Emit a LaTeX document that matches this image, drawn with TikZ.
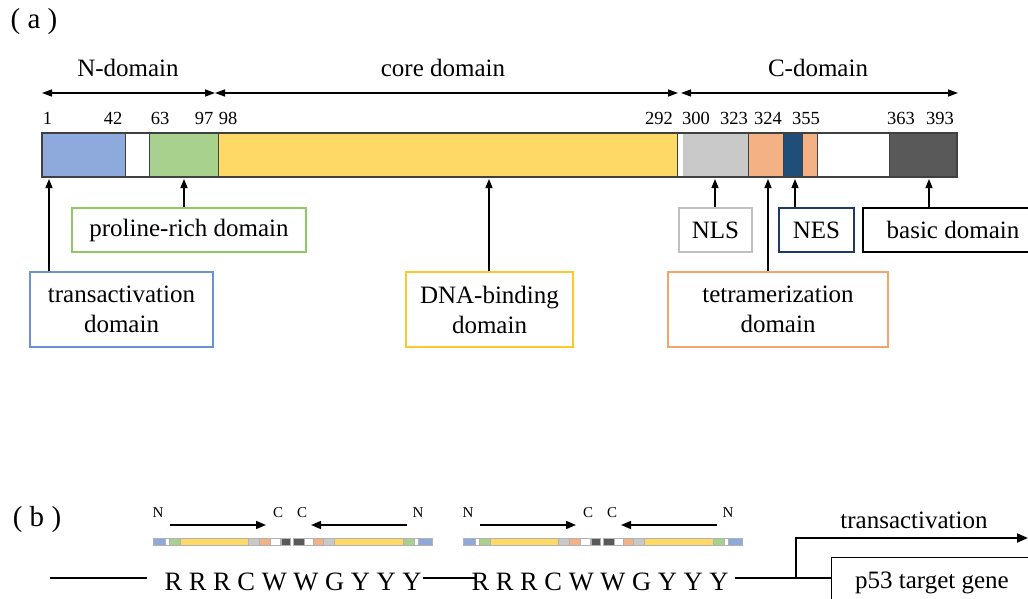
\documentclass[tikz,border=0pt]{standalone}
\usepackage{fontspec}
\setmainfont{Liberation Serif}
\usetikzlibrary{arrows.meta}
\definecolor{cblue}{HTML}{8EA9DB}
\definecolor{cblueb}{HTML}{4472C4}
\definecolor{bblue}{HTML}{6C93D1}
\definecolor{cgreen}{HTML}{A9D18E}
\definecolor{bgreen}{HTML}{8FC964}
\definecolor{cyellow}{HTML}{FFD966}
\definecolor{byellow}{HTML}{FFC72C}
\definecolor{cgray}{HTML}{C9C9C9}
\definecolor{bgray}{HTML}{C0C0C0}
\definecolor{corange}{HTML}{F4B183}
\definecolor{borange}{HTML}{F4A46C}
\definecolor{cnavy}{HTML}{1F4E79}
\definecolor{bnavy}{HTML}{1F3864}
\definecolor{cdark}{HTML}{595959}
\definecolor{cedge}{HTML}{404040}
\newcommand\minibar[2]{% #1 = list of x1/x2/color, #2 = y top
  \foreach \a/\b/\c in {#1} {\filldraw[fill=\c, draw=black!30, line width=0.4pt] (\a,#2) rectangle (\b,#2+7);}
}
\begin{document}
\begin{tikzpicture}[x=1pt,y=-1pt,
  lbl/.style={font=\fontsize{25}{30}\selectfont, inner sep=0},
  part/.style={font=\fontsize{29}{34}\selectfont, inner sep=0},
  seqf/.style={font=\fontsize{26.5}{30}\selectfont, inner sep=0, anchor=base},
  num/.style={font=\fontsize{18.5}{22}\selectfont, anchor=base, inner sep=0},
  small/.style={font=\fontsize{15}{17}\selectfont, anchor=base, inner sep=0},
  dbox/.style={draw, line width=1.6pt, align=center, font=\fontsize{25}{30}\selectfont, inner sep=0},
  arr/.style={-{Triangle[length=9pt,width=7pt]}, line width=1.3pt},
  dbl/.style={{Triangle[length=10pt,width=7pt]}-{Triangle[length=10pt,width=7pt]}, line width=1.3pt},
  barr/.style={-{Triangle[length=11pt,width=9pt]}, line width=1.8pt},
  seg/.style={line width=1pt}
]
\useasboundingbox (0,0) rectangle (1028,599);
\clip (0,0) rectangle (1028,599);

% ---------- (a) ----------
\node[part] (lab-a) at (34,22) {( a )};

% domain arrows
\coordinate (n1) at (42,93);
\coordinate (n2) at (215,93);
\coordinate (c1) at (678,93);
\coordinate (c2) at (681,93);
\coordinate (c3) at (958,93);
\draw[dbl] (n1) -- (n2);
\draw[dbl] (n2) -- (c1);
\draw[dbl] (c2) -- (c3);
\node[lbl, anchor=base] (ndom) at (128,77) {N-domain};
\node[lbl, anchor=base] (cdom) at (443,77) {core domain};
\node[lbl, anchor=base] (cdomc) at (818,77) {C-domain};

% residue numbers
\foreach \x/\t [count=\i] in {47.5/1,113/42,160/63,204/97,228/98,659/292,696/300,734/323,768/324,806/355,901/363,940/393}
  \node[num] (num\i) at (\x,125) {\t};

% bar
\filldraw[fill=cblue, draw=cblueb, seg] (42,133) rectangle (125,177);
\filldraw[fill=white, draw=cedge, seg] (125,133) rectangle (149,177);
\filldraw[fill=cgreen, draw=cedge, seg] (149,133) rectangle (218,177);
\filldraw[fill=cyellow, draw=cedge, seg] (218,133) rectangle (677,177);
\filldraw[fill=white, draw=cedge, seg] (677,133) rectangle (682,177);
\filldraw[fill=cgray, draw=white, seg] (682.5,134) rectangle (748,176);
\filldraw[fill=corange, draw=cedge, seg] (748,133) rectangle (783,177);
\filldraw[fill=cnavy, draw=cedge, seg] (783,133) rectangle (802,177);
\filldraw[fill=corange, draw=cedge, seg] (802,133) rectangle (817,177);
\filldraw[fill=white, draw=cedge, seg] (817,133) rectangle (889,177);
\filldraw[fill=cdark, draw=cedge, seg] (889,133) rectangle (957,177);
\draw[cedge, line width=1.4pt] (42,133) rectangle (957,177);

% targets on the bar
\coordinate (tTA) at (49,179);
\coordinate (tPR) at (184,179);
\coordinate (tDNA) at (489,179);
\coordinate (tNLS) at (715,179);
\coordinate (tTET) at (768,179);
\coordinate (tNES) at (795,179);
\coordinate (tBAS) at (929,179);

% label boxes
\node[dbox, draw=bgreen, minimum width=234, minimum height=44] (prol) at (189,230) {proline-rich domain};
\node[dbox, draw=bblue, minimum width=183, minimum height=75] (trans) at (121.5,309.5) {transactivation\\domain};
\node[dbox, draw=byellow, minimum width=167, minimum height=75] (dna) at (489.5,309.5) {DNA-binding\\domain};
\node[dbox, draw=bgray, minimum width=73, minimum height=44] (nls) at (715.5,230) {NLS};
\node[dbox, draw=bnavy, minimum width=75, minimum height=44] (nes) at (816.5,230) {NES};
\node[dbox, draw=black, minimum width=180, minimum height=44] (basic) at (953,230) {basic domain};
\node[dbox, draw=borange, minimum width=220, minimum height=75] (tetra) at (778,309.5) {tetramerization\\domain};

\draw[arr] (trans.north -| tTA) -- (tTA);
\draw[arr] (prol.north -| tPR) -- (tPR);
\draw[arr] (dna.north -| tDNA) -- (tDNA);
\draw[arr] (nls.north -| tNLS) -- (tNLS);
\draw[arr] (tetra.north -| tTET) -- (tTET);
\draw[arr] (nes.north -| tNES) -- (tNES);
\draw[arr] (basic.north -| tBAS) -- (tBAS);

% ---------- (b) ----------
\node[part] (lab-b) at (37,520) {( b )};

\foreach \s [count=\k] in {0,310} {
  \begin{scope}[xshift=\s]
    \minibar{153/165/cblue,165/169/white,169/180/cgreen,180/248/cyellow,248/259/cgray,259/270/corange,270/280/white,281/290/cdark}{538}
    \minibar{293/304/cdark,304/313/white,313/323/corange,323/334/cgray,334/403/cyellow,403/414/cgreen,414/418/white,418/432/cblue}{538}
    \node[small] (nl\k) at (158,517) {N};
    \node[small] (cl\k) at (278,517) {C};
    \node[small] (cr\k) at (302,517) {C};
    \node[small] (nr\k) at (418,517) {N};
    \coordinate (a1\k) at (170,525);
    \coordinate (a2\k) at (266,525);
    \coordinate (a3\k) at (407,525);
    \coordinate (a4\k) at (311,525);
  \end{scope}
  \draw[-{Triangle[length=10pt,width=8pt]}, line width=1.5pt] (a1\k) -- (a2\k);
  \draw[-{Triangle[length=10pt,width=8pt]}, line width=1.5pt] (a3\k) -- (a4\k);
}

\node[seqf] (seq1) at (293,590) {R R R C W W G Y Y Y};
\node[seqf] (seq2) at (600,590) {R R R C W W G Y Y Y};

\coordinate (la) at (50,578);
\coordinate (lb) at (147,578);
\coordinate (s1e) at (423,578);
\coordinate (s2w) at (475,578);
\coordinate (s2e) at (735,578);
\coordinate (bend) at (796,578);
\coordinate (top) at (796,538);
\coordinate (tip) at (1028,538);

\node[dbox, line width=1.4pt, minimum width=209, minimum height=60, anchor=north west] (p53) at (831,557) {};
\node[lbl, anchor=base] (p53t) at (932,588) {p53 target gene};

\draw[line width=1.3pt] (la) -- (lb);
\draw[line width=1.3pt] (s1e) -- (s2w);
\draw[line width=1.3pt] (s2e) -- (p53.west |- s2e);
\draw[barr] (bend) -- (top) -- (tip);
\node[lbl, anchor=base] (tact) at (914,528) {transactivation};
\end{tikzpicture}
\end{document}
